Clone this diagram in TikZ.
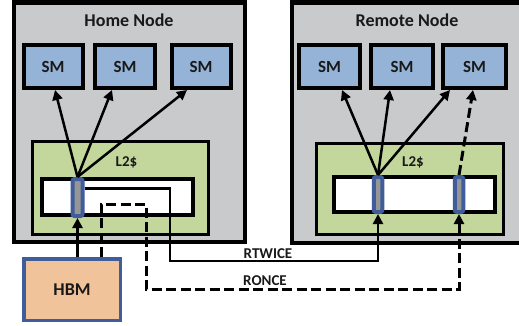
\documentclass[tikz,border=0pt]{standalone}
\usepackage{fontspec}
\setmainfont{Carlito}
\usepackage{xcolor}
\definecolor{nodegray}{RGB}{201,202,204}
\definecolor{smblue}{RGB}{149,179,215}
\definecolor{l2green}{RGB}{195,214,155}
\definecolor{hbmpeach}{RGB}{241,195,155}
\definecolor{slotblue}{RGB}{63,93,154}
\definecolor{slotgray}{RGB}{150,150,150}
\usetikzlibrary{arrows.meta, calc}

\begin{document}
\begin{tikzpicture}[x=1pt, y=-1pt,
  sm/.style={draw=black, line width=4pt, fill=smblue, minimum width=59pt, minimum height=43pt,
             inner sep=0pt, font=\fontsize{17}{17}\selectfont\bfseries, text=black!90},
  slot/.style={draw=slotblue, line width=4pt, fill=slotgray, rounded corners=2pt,
               minimum width=9pt, minimum height=36pt, inner sep=0pt},
  link/.style={line width=2.5pt, -{Triangle[length=10pt,width=10pt]}},
  dashlink/.style={link, line width=3pt, dash pattern=on 10pt off 4.5pt},
  title/.style={font=\fontsize{18}{18}\selectfont\bfseries, text=black!90, anchor=base},
  tag/.style={font=\fontsize{15}{15}\selectfont\bfseries, text=black!90, anchor=base}]
  \useasboundingbox (0,0) rectangle (519,326);

  % Node panels
  \draw[line width=4.5pt, fill=nodegray] (14,2.5) rectangle (245,242);
  \draw[line width=4.5pt, fill=nodegray] (292,2.5) rectangle (540,243);
  \node[title] (hometitle) at (129,27) {Home Node};
  \node[title] (remotetitle) at (407,27) {Remote Node};

  % --- SMs ---
  \node[sm] (hsm1) at (53,66.5) {SM};
  \node[sm, minimum width=60pt] (hsm2) at (125,66.5) {SM};
  \node[sm] (hsm3) at (201,66.5) {SM};
  \node[sm, minimum width=61pt] (rsm1) at (329.5,66.5) {SM};
  \node[sm, minimum width=62pt] (rsm2) at (402,66.5) {SM};
  \node[sm, minimum width=63pt] (rsm3) at (474.5,66.5) {SM};

  % --- L2 caches ---
  \draw[line width=3pt, fill=l2green] (32.5,141.5) rectangle (208.5,234.5);
  \draw[line width=3pt, fill=l2green] (316.5,143.5) rectangle (503.5,234.5);
  \node[tag] (hl2) at (126.5,166) {L2\$};
  \node[tag] (rl2) at (413,166) {L2\$};
  \draw[line width=4pt, fill=white] (42,179) rectangle (193,215);
  \draw[line width=4pt, fill=white] (334,177) rectangle (495,212);

  % cache lines
  \node[slot, minimum width=10pt, minimum height=37pt] (hslot) at (77.5,197.5) {};
  \node[slot, minimum width=8.5pt, minimum height=35pt] (rslot1) at (378,194.5) {};
  \node[slot, minimum width=8.5pt, minimum height=35pt] (rslot2) at (459,194.5) {};

  % HBM
  \node[draw=slotblue, line width=3.5pt, fill=hbmpeach, minimum width=96.5pt, minimum height=61.5pt,
        font=\fontsize{18}{18}\selectfont\bfseries, text=black!90] (hbm) at (72,289.5) {HBM};

  % --- fills from the cache lines to the SMs ---
  \draw[link] (hslot.north) -- ([xshift=2pt]hsm1.south);
  \draw[link] (hslot.north) -- ([xshift=-13pt]hsm2.south);
  \draw[link] (hslot.north) -- ([xshift=-14pt]hsm3.south);
  \draw[link] (rslot1.north) -- ([xshift=12.5pt]rsm1.south);
  \draw[link] (rslot1.north) -- ([xshift=-12pt]rsm2.south);
  \draw[link] (rslot1.north) -- ([xshift=-24.5pt]rsm3.south);
  \draw[dashlink] (rslot2.north) -- ([xshift=-1.5pt]rsm3.south);

  % --- HBM to home L2 and the two remote paths ---
  \draw[link] (hbm.north -| hslot) -- (hslot.south);
  \draw[link] ([yshift=9pt]hslot.east) -| (170,261) -| (rslot1.south);
  \draw[dashlink] ([xshift=29pt]hbm.north) |- (146,204) -- (146,289) -| (rslot2.south);
  \node[tag] (rtwice) at (268,258) {RTWICE};
  \node[tag] (ronce) at (265,285) {RONCE};
\end{tikzpicture}
\end{document}
